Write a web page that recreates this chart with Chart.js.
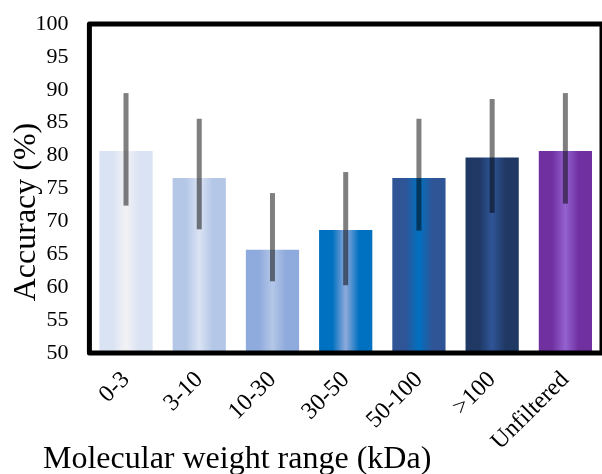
<!DOCTYPE html>
<html>
<head>
<meta charset="utf-8">
<script src="https://cdn.jsdelivr.net/npm/chart.js@4/dist/chart.umd.min.js"></script>
<style>
  html, body { margin: 0; padding: 0; background: #fff; overflow: hidden; }
  #wrap { position: relative; width: 602px; height: 474px; }
</style>
</head>
<body>
<div id="wrap"><canvas id="chart"></canvas></div>
<script>
// Accuracy per molecular weight filter range
const categories = ['0-3', '3-10', '10-30', '30-50', '50-100', '>100', 'Unfiltered'];
const accuracy   = [80.7, 76.6, 65.7, 68.7, 76.6, 79.7, 80.7];
const errorLow   = [72.4, 68.8, 60.9, 60.3, 68.6, 71.3, 72.7];
const errorHigh  = [89.5, 85.6, 74.3, 77.5, 85.6, 88.6, 89.5];
const yTicks     = [50, 55, 60, 65, 70, 75, 80, 85, 90, 95, 100];

const xTitle = 'Molecular weight range (kDa)';
const yTitle = 'Accuracy (%)';

// bar shading: flat outer colour with a lighter vertical band in the middle
const edgeColors   = ['#dae3f3', '#b4c7e7', '#8faadc', '#0070c0', '#2f5597', '#203864', '#7030a0'];
const centerColors = ['#f2f2f4', '#dae3f3', '#b4c7e7', '#8faadc', '#0070c0', '#2f5597', '#9462cf'];

const BAR_PCT = 0.727;
const SERIF = '"Liberation Serif", "Times New Roman", serif';

function barFill(ctx) {
  const i = ctx.dataIndex;
  const chart = ctx.chart;
  const xs = chart.scales && chart.scales.x;
  if (i === undefined || !chart.chartArea || !xs) return edgeColors[i || 0];
  const cx = xs.getPixelForValue(i);
  const half = (xs.width / categories.length) * BAR_PCT / 2;
  const g = chart.ctx.createLinearGradient(cx - half, 0, cx + half, 0);
  g.addColorStop(0, edgeColors[i]);
  g.addColorStop(0.25, edgeColors[i]);
  g.addColorStop(0.5, centerColors[i]);
  g.addColorStop(0.75, edgeColors[i]);
  g.addColorStop(1, edgeColors[i]);
  return g;
}

// vertical error bars without caps, drawn over the bars
const errorBars = {
  id: 'errorBars',
  afterDatasetsDraw(chart) {
    const { ctx, scales: { x, y } } = chart;
    ctx.save();
    ctx.strokeStyle = 'rgba(0,0,0,0.5)';
    ctx.lineWidth = 5;
    ctx.lineCap = 'butt';
    categories.forEach((_, i) => {
      const px = x.getPixelForValue(i);
      ctx.beginPath();
      ctx.moveTo(px, y.getPixelForValue(errorLow[i]));
      ctx.lineTo(px, y.getPixelForValue(errorHigh[i]));
      ctx.stroke();
    });
    ctx.restore();
  }
};

// heavy frame round the plot area
const frame = {
  id: 'frame',
  afterDraw(chart) {
    const { ctx, chartArea: a } = chart;
    ctx.save();
    ctx.strokeStyle = '#000';
    ctx.lineWidth = 5;
    ctx.lineJoin = 'round';
    ctx.strokeRect(a.left, a.top, a.right - a.left, a.bottom - a.top);
    ctx.restore();
  }
};

// axis titles
const axisTitles = {
  id: 'axisTitles',
  afterDraw(chart) {
    const ctx = chart.ctx;
    ctx.save();
    ctx.fillStyle = '#000';
    ctx.font = '32px ' + SERIF;
    ctx.textBaseline = 'alphabetic';
    ctx.textAlign = 'left';
    ctx.fillText(xTitle, 43, 468);
    ctx.translate(35, 212);
    ctx.rotate(-Math.PI / 2);
    ctx.textAlign = 'center';
    ctx.fillText(yTitle, 0, 0);
    ctx.restore();
  }
};

new Chart(document.getElementById('chart'), {
  type: 'bar',
  data: {
    labels: categories,
    datasets: [{
      data: accuracy,
      backgroundColor: barFill,
      borderWidth: 0,
      barPercentage: BAR_PCT,
      categoryPercentage: 1
    }]
  },
  options: {
    responsive: true,
    maintainAspectRatio: false,
    animation: false,
    devicePixelRatio: 1,
    layout: { padding: { top: 24, left: 0, right: 0, bottom: 0 } },
    plugins: { legend: { display: false }, tooltip: { enabled: false } },
    scales: {
      x: {
        grid: { display: false, drawTicks: false },
        border: { display: false },
        ticks: {
          color: '#000',
          font: { family: SERIF, size: 24 },
          minRotation: 45,
          maxRotation: 45,
          autoSkip: false,
          padding: 13
        },
        afterFit(scale) {
          scale.height = 121;
          scale.paddingLeft = 0;
          scale.paddingRight = 0;
        }
      },
      y: {
        min: 50,
        max: 100,
        grid: { display: false, drawTicks: false },
        border: { display: false },
        afterBuildTicks(scale) { scale.ticks = yTicks.map(v => ({ value: v })); },
        ticks: {
          color: '#000',
          font: { family: SERIF, size: 22 },
          padding: 21
        },
        afterFit(scale) {
          scale.width = 89.4;
          scale.paddingTop = 0;
          scale.paddingBottom = 0;
        }
      }
    }
  },
  plugins: [errorBars, frame, axisTitles]
});
</script>
</body>
</html>
